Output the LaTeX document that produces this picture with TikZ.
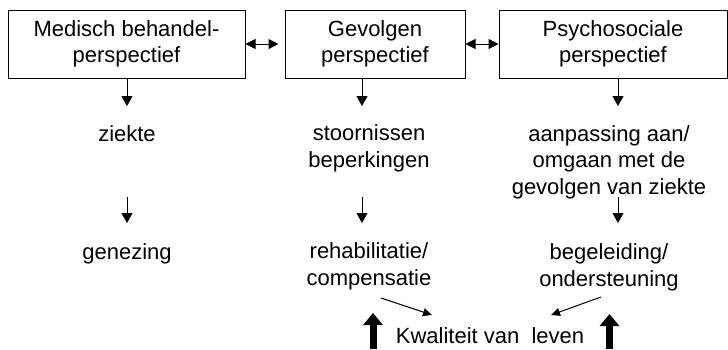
\documentclass[tikz,border=0pt]{standalone}
\usepackage{fontspec}
\setmainfont{Liberation Sans}
\usetikzlibrary{arrows.meta}
\begin{document}
\begin{tikzpicture}[x=1pt,y=-1pt,
  font=\fontsize{22}{26.5}\selectfont,
  box/.style={draw,line width=1pt,inner sep=0pt,minimum height=68pt,align=center},
  lbl/.style={align=center,inner sep=0pt},
  arr/.style={line width=1pt,-{Triangle[length=10pt,width=11pt]}},
  darr/.style={line width=1pt,{Triangle[length=10pt,width=10pt]}-{Triangle[length=10pt,width=10pt]}},
  sarr/.style={line width=1pt,-{Triangle[length=9pt,width=8pt]}},
  bigarr/.style={line width=7pt,-{Triangle[length=12pt,width=19pt]}}]
\useasboundingbox (0,0) rectangle (728,349);

\node[box,minimum width=237pt] (b1) at (126.5,44) {Medisch behandel-\\perspectief};
\node[box,minimum width=180pt] (b2) at (375,44) {Gevolgen\\perspectief};
\node[box,minimum width=228pt] (b3) at (613,44) {Psychosociale\\perspectief};

\node[lbl,anchor=base] (z1) at (127,141) {ziekte};
\node[lbl,anchor=base] (z2) at (369,167) {stoornissen\\beperkingen};
\node[lbl,anchor=base] (z3) at (609,194) {aanpassing aan/\\omgaan met de\\gevolgen van ziekte};
\node[lbl,anchor=base] (g1) at (127,259) {genezing};
\node[lbl,anchor=base] (g2) at (369,285) {rehabilitatie/\\compensatie};
\node[lbl,anchor=base] (g3) at (609,286) {begeleiding/\\ondersteuning};
\node[lbl,anchor=base] (k) at (490,343) {Kwaliteit van\ \ leven};

\draw[darr,shorten >=6pt] (b1.east) -- (b2.west);
\draw[darr] (b2.east) -- (b3.west);

\coordinate (e1) at (127,106);
\coordinate (e2) at (362,106);
\coordinate (e3) at (618,106);
\draw[arr] (b1.south -| e1) -- (e1);
\draw[arr] (b2.south -| e2) -- (e2);
\draw[arr] (b3.south -| e3) -- (e3);

\coordinate (r1s) at (127,197); \coordinate (r1e) at (127,223);
\coordinate (r2s) at (362,197); \coordinate (r2e) at (362,223);
\coordinate (r3s) at (618,197); \coordinate (r3e) at (618,223);
\draw[arr] (r1s) -- (r1e);
\draw[arr] (r2s) -- (r2e);
\draw[arr] (r3s) -- (r3e);

\coordinate (q2s) at (381,298); \coordinate (q2e) at (432,315);
\coordinate (q3s) at (601,297); \coordinate (q3e) at (551,315);
\draw[sarr] (q2s) -- (q2e);
\draw[sarr] (q3s) -- (q3e);

\coordinate (u1s) at (373,349); \coordinate (u1e) at (373,313);
\coordinate (u2s) at (609.5,349); \coordinate (u2e) at (609.5,314);
\draw[bigarr] (u1s) -- (u1e);
\draw[bigarr] (u2s) -- (u2e);
\end{tikzpicture}
\end{document}
